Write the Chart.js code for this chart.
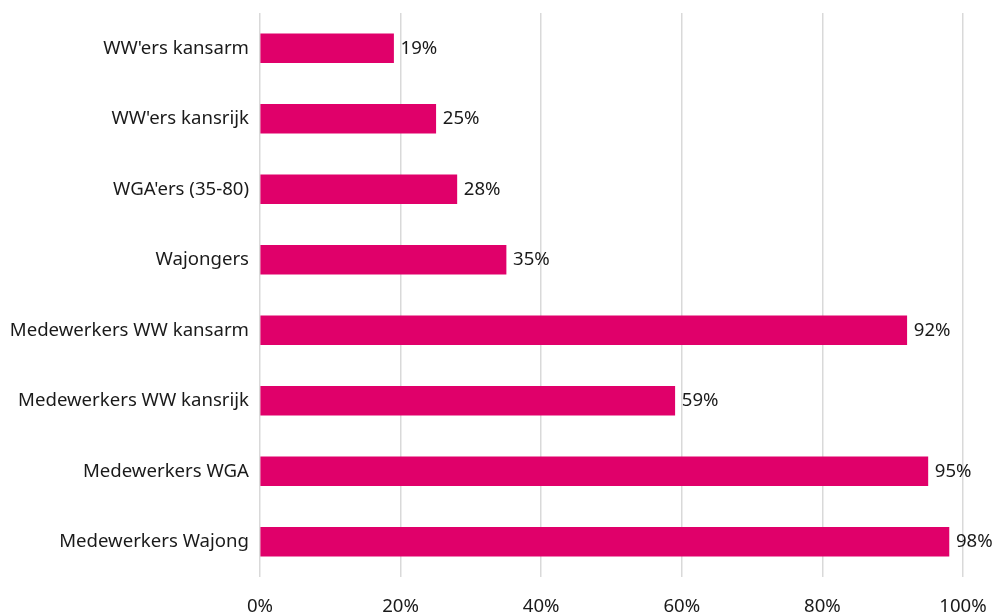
<!DOCTYPE html>
<html>
<head>
<meta charset="utf-8">
<script src="https://cdn.jsdelivr.net/npm/chart.js@4"></script>
<style>
html,body{margin:0;padding:0;background:#fff;}
#wrap{width:995px;height:612px;position:relative;}
</style>
</head>
<body>
<div id="wrap"><canvas id="c" width="995" height="612"></canvas></div>
<script>
const categories = ["WW'ers kansarm","WW'ers kansrijk","WGA'ers (35-80)","Wajongers","Medewerkers WW kansarm","Medewerkers WW kansrijk","Medewerkers WGA","Medewerkers Wajong"];
const values = [19,25,28,35,92,59,95,98];
const xTicks = [0,20,40,60,80,100];

const FONT = "'Noto Sans', 'Open Sans', sans-serif";
const FSIZE = 18.6;

const labelPlugin = {
  id:'barLabels',
  afterDatasetsDraw(chart){
    const ctx = chart.ctx;
    const meta = chart.getDatasetMeta(0);
    ctx.save();
    ctx.font = FSIZE + "px " + FONT;
    ctx.fillStyle = "#1a1a1a";
    ctx.textAlign = "left";
    ctx.textBaseline = "middle";
    meta.data.forEach((bar,i)=>{
      ctx.fillText(values[i] + "%", bar.x + 7, bar.y);
    });
    ctx.restore();
  }
};

new Chart(document.getElementById('c'), {
  type:'bar',
  data:{labels:categories, datasets:[{data:values, backgroundColor:'#e0006a', barThickness:29}]},
  options:{
    indexAxis:'y',
    responsive:false,
    animation:false,
    layout:{padding:{top:13,right:32,left:0,bottom:0}},
    plugins:{legend:{display:false},tooltip:{enabled:false}},
    scales:{
      x:{
        min:0,max:100,
        afterBuildTicks(s){ s.ticks = xTicks.map(v=>({value:v})); },
        afterFit(s){ s.height = 35; s.paddingLeft = 0; s.paddingRight = 0; },
        grid:{color:'#d9d9d9',lineWidth:1.5,drawTicks:false},
        border:{display:false},
        ticks:{padding:19,color:'#1a1a1a',font:{family:FONT,size:FSIZE},callback:v=>v+'%'}
      },
      y:{
        afterFit(s){ s.width = 260; s.paddingTop = 0; s.paddingBottom = 0; },
        grid:{display:false,drawTicks:false},
        border:{display:false},
        ticks:{padding:11,color:'#1a1a1a',font:{family:FONT,size:FSIZE}}
      }
    }
  },
  plugins:[labelPlugin]
});
</script>
</body>
</html>
